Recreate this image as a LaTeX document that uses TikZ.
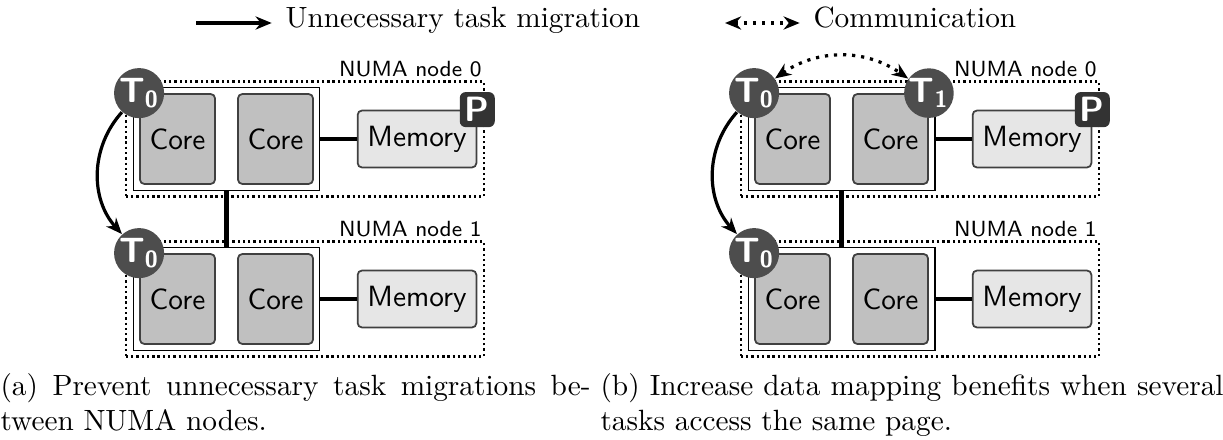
\documentclass[tikz,border=0pt]{standalone}
\usetikzlibrary{arrows,arrows.meta}
\usetikzlibrary{scopes}
\usetikzlibrary{fit}
\usepackage{xcolor}

\tikzset{
  core/.style={draw=coreline,fill=coregray,rounded corners=1.5pt,line width=0.6pt,minimum width=0.9cm,minimum height=1.08cm,font=\sffamily},
  memory/.style={draw=coreline,fill=memgray,rounded corners=1.5pt,line width=0.6pt,minimum width=1.416cm,minimum height=0.684cm,font=\sffamily},
  socket/.style={draw=black,line width=0.5pt,inner sep=0.07cm},
  numa/.style={draw=black,densely dotted,line width=0.8pt,inner xsep=0.08cm,inner ysep=0.06cm},
  numalabel/.style={font=\fontsize{7.5pt}{9pt}\selectfont\sffamily,inner sep=1pt,anchor=south east},
  task/.style={circle,fill=taskgray,text=white,minimum size=0.576cm,inner sep=0pt,font=\large\sffamily\bfseries},
  page/.style={fill=pagegray,text=white,rounded corners=2pt,minimum size=0.42cm,inner sep=0pt,font=\large\sffamily\bfseries},
  link/.style={line width=1.5pt},
  migr/.style={->,>={Stealth[length=5.5pt,width=4.5pt]},line width=1.1pt},
  comm/.style={<->,>={Stealth[length=5.5pt,width=4.5pt]},dotted,line width=1.1pt},
}

\begin{document}
\begin{tikzpicture}

\definecolor{coregray}{RGB}{192,192,192};
\definecolor{memgray}{RGB}{230,230,230};
\definecolor{coreline}{RGB}{64,64,64};
\definecolor{taskgray}{RGB}{77,77,77};
\definecolor{pagegray}{RGB}{51,51,51};

\useasboundingbox (0,0) rectangle (14.676,5.268);

% legend
\coordinate (lgmiga) at (2.352,4.992);
\node[anchor=base west,inner sep=0pt] (lgmig) at (3.42,4.932) {Unnecessary task migration};
\draw[migr,shorten >=0.16cm] (lgmiga) -- (lgmiga -| lgmig.west);

\coordinate (lgcomma) at (8.7,4.992);
\node[anchor=base west,inner sep=0pt] (lgcomm) at (9.756,4.932) {Communication};
\draw[comm,shorten >=0.16cm] (lgcomma) -- (lgcomma -| lgcomm.west);

% (a) and (b): two NUMA nodes each
\foreach \p/\dx in {a/0,b/7.38}{
  \foreach \k/\dy in {0/0,1/1.92}{
    \node[core] (\p\k c1) at (2.13+\dx,3.60-\dy) {Core};
    \node[core] (\p\k c2) at (3.306+\dx,3.60-\dy) {Core};
    \node[memory] (\p\k m) at (5.004+\dx,3.60-\dy) {Memory};
    \node[socket,fit=(\p\k c1)(\p\k c2)] (\p\k f) {};
    \node[numa,fit=(\p\k f)(\p\k m)] (\p\k n) {};
    \node[numalabel] at (\p\k n.north east) {NUMA node \k};
    \draw[link] (\p\k f) -- (\p\k m);
  }
  \draw[link] (\p 0f) -- (\p 1f);
  \node[page] at (\p 0m.north east) {P};
  \node[task] (\p 0t) at (\p 0c1.north west) {T\textsubscript{0}};
  \node[task] (\p 1t) at (\p 1c1.north west) {T\textsubscript{0}};
  \draw[migr] (\p 0t) to[bend right=42] (\p 1t);
}

\node[task] (b0t1) at (b0c2.north east) {T\textsubscript{1}};
\draw[comm] (b0t) to[bend left=35] (b0t1);

% captions
{[inner sep=0pt,anchor=north west,align=justify]
  \node[text width=7.08cm] (capa) at (0,0.792) {(a) Prevent unnecessary task migrations be-\linebreak tween NUMA nodes.};
  \node[text width=7.476cm] (capb) at (7.2,0.792) {(b) Increase data mapping benefits when several\linebreak tasks access the same page.};
}

\end{tikzpicture}
\end{document}
